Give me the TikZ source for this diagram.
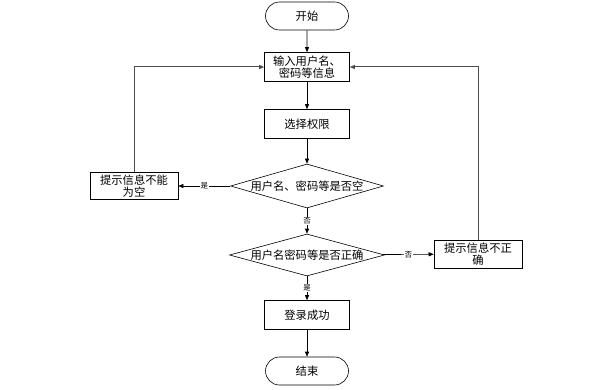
\documentclass[tikz,border=0pt]{standalone}
\usepackage{fontspec}
\setmainfont{Noto Sans CJK SC}
\usetikzlibrary{shapes.geometric,shapes.misc,arrows.meta}
\begin{document}
\begin{tikzpicture}[x=1pt,y=-1pt,
  base/.style={draw=black,line width=0.6pt,font=\fontsize{11.3}{12.5}\selectfont,inner sep=1pt,align=center},
  proc/.style={base,rectangle,minimum width=85pt,minimum height=29pt},
  term/.style={base,rounded rectangle,minimum width=85pt,minimum height=28pt},
  dec/.style={base,diamond,aspect=3.6,minimum width=153pt,minimum height=44pt,inner sep=0pt},
  arr/.style={draw=black,line width=0.6pt,-{Triangle[length=5pt,width=4pt]}},
  garr/.style={draw=black!70,line width=1pt,-{Triangle[length=5pt,width=4pt]}},
  lbl/.style={fill=white,inner sep=0.5pt,font=\fontsize{7.5}{8}\selectfont}]
\useasboundingbox (0,0) rectangle (592,390);
\node[term] (start) at (307,16) {开始};
\node[proc] (input) at (307,67) {输入用户名、\\密码等信息};
\node[proc] (role) at (307,124) {选择权限};
\node[dec] (d1) at (307,186) {用户名、密码等是否空};
\node[proc,minimum width=88pt,minimum height=27pt] (empty) at (134,186) {提示信息不能\\为空};
\node[dec,minimum width=155pt,minimum height=42pt] (d2) at (307,255) {用户名密码等是否正确};
\node[proc,minimum width=88pt,minimum height=28pt] (wrong) at (478,254) {提示信息不正\\确};
\node[proc] (ok) at (307,315) {登录成功};
\node[term] (end) at (307,371) {结束};
\draw[arr] (start) -- (input);
\draw[arr] (input) -- (role);
\draw[arr] (role) -- (d1);
\draw[arr] (d1) -- node[lbl]{是} (empty);
\draw[arr] (d1) -- node[lbl]{否} (d2);
\draw[arr] (d2) -- node[lbl]{否} (wrong);
\draw[arr] (d2) -- node[lbl]{是} (ok);
\draw[arr] (ok) -- (end);
\draw[garr] (empty.north) |- (input.west);
\draw[garr] (wrong.north) |- (input.east);
\end{tikzpicture}
\end{document}
